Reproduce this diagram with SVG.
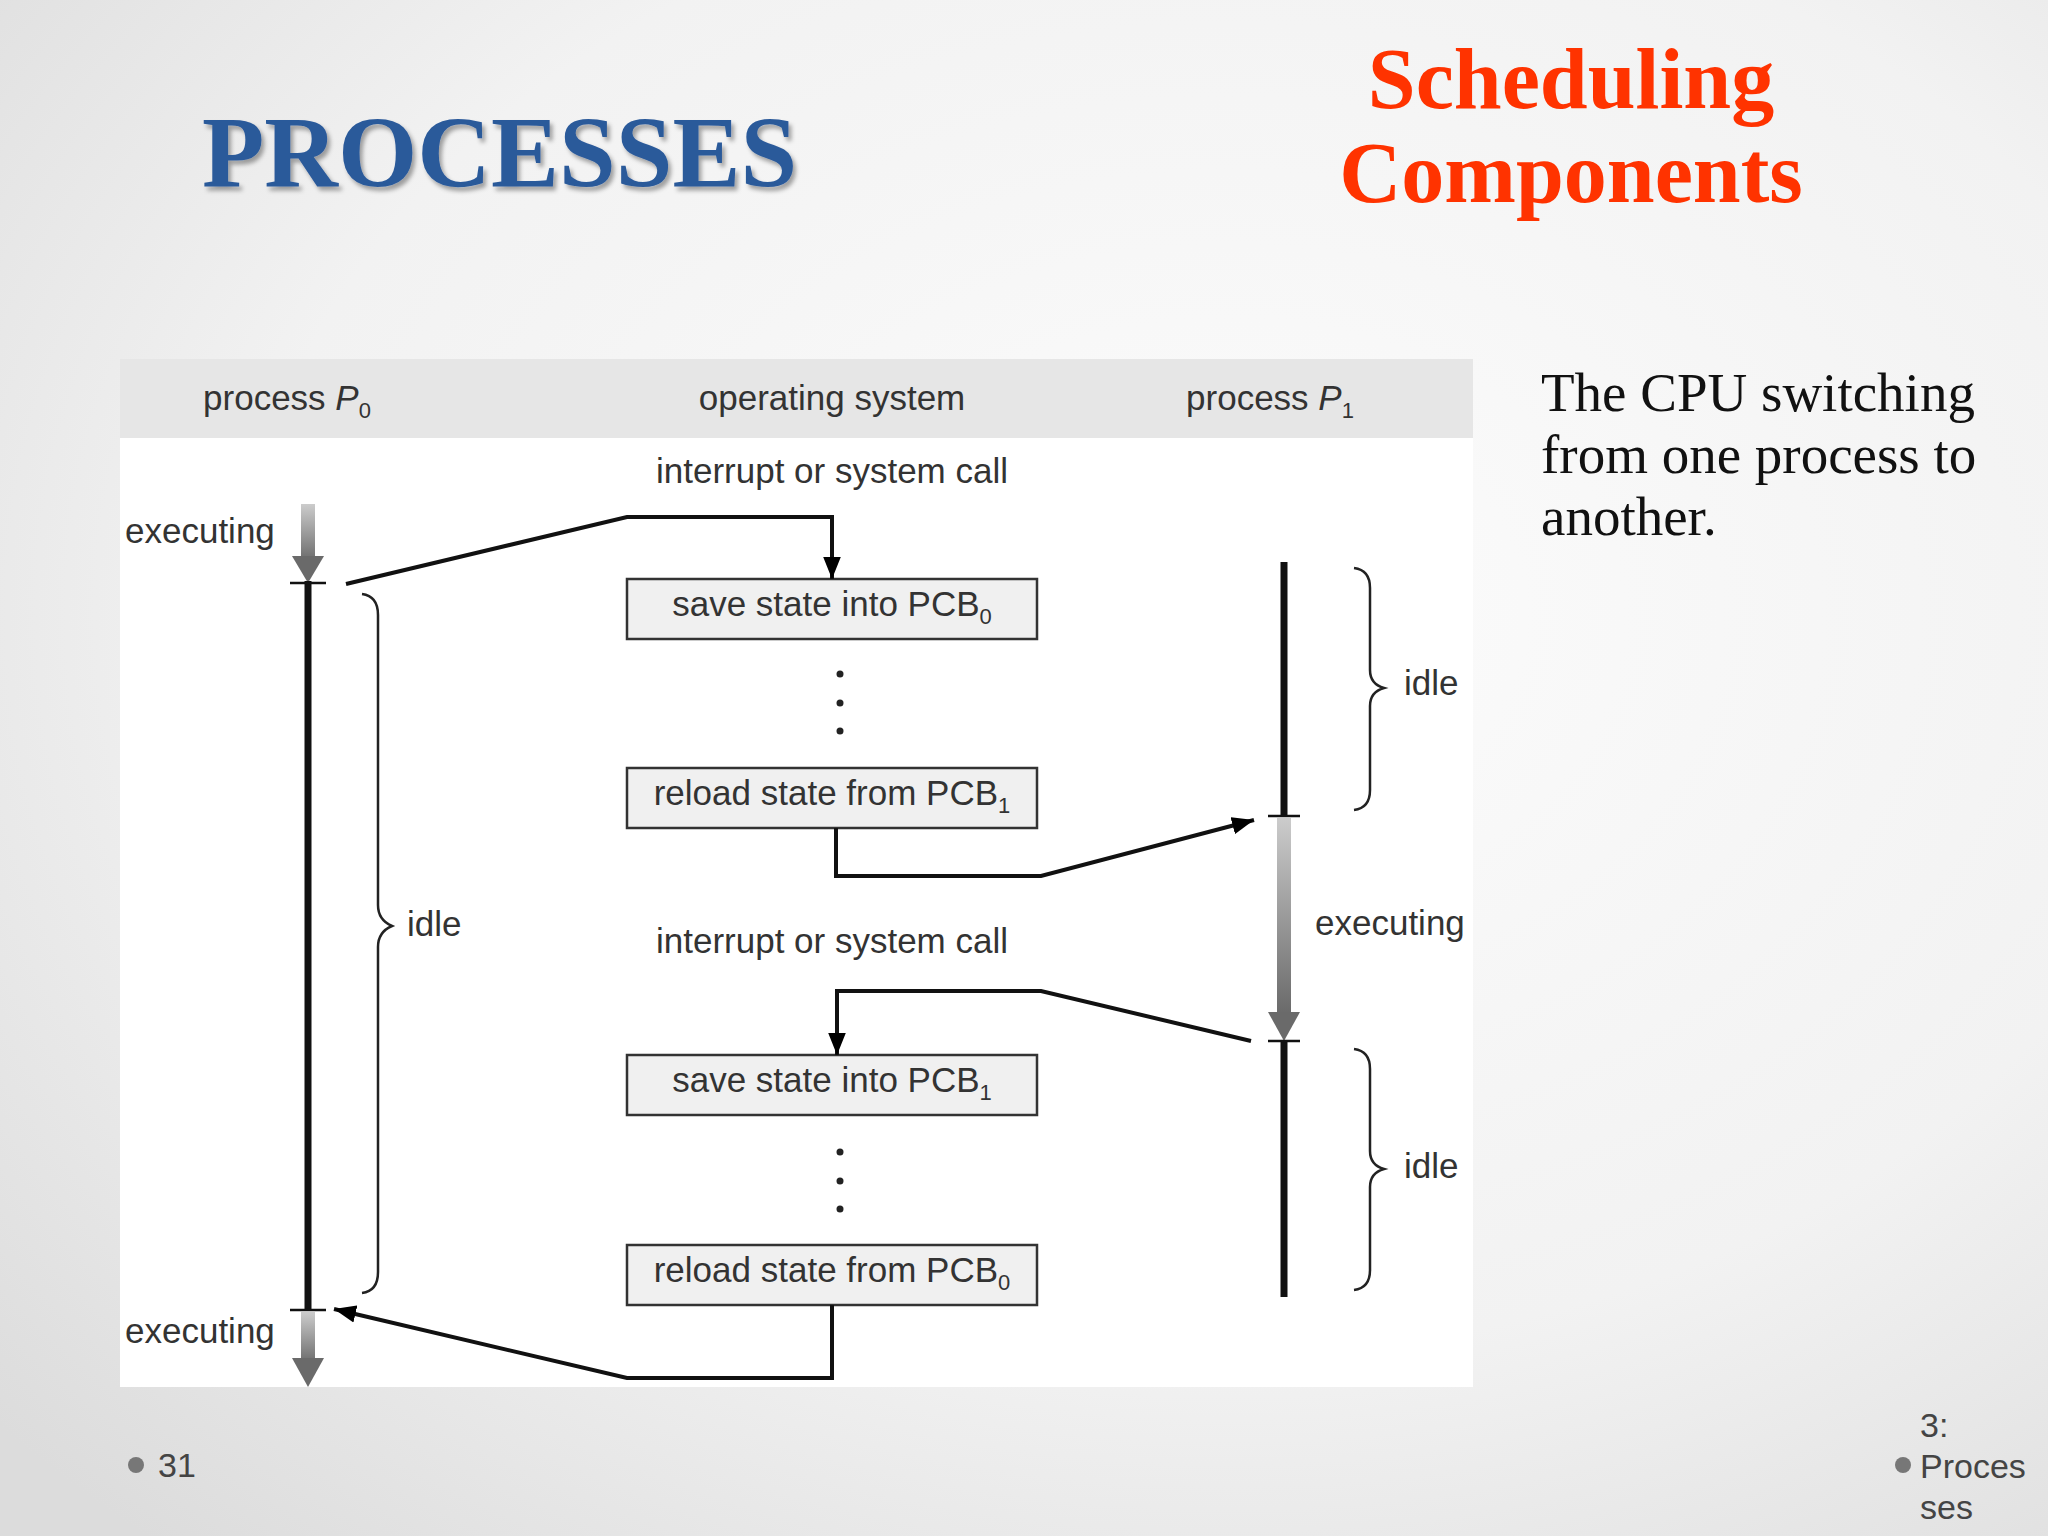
<svg xmlns="http://www.w3.org/2000/svg" width="2048" height="1536" viewBox="0 0 2048 1536">
<defs>
<radialGradient id="bg" cx="0.6" cy="0.4" r="0.8"><stop offset="0" stop-color="#fcfcfc"/><stop offset="0.6" stop-color="#f2f2f2"/><stop offset="1" stop-color="#dcdcdc"/></radialGradient>
<linearGradient id="ga" x1="0" y1="0" x2="0" y2="1"><stop offset="0" stop-color="#cccccc"/><stop offset="1" stop-color="#6a6a6a"/></linearGradient>
<marker id="a2" viewBox="0 0 20 16" refX="20" refY="8" markerWidth="22" markerHeight="18" orient="auto" markerUnits="userSpaceOnUse"><path d="M0,0 L20,8 L0,16 z" fill="#000"/></marker>
<filter id="sh"><feDropShadow dx="3" dy="4" stdDeviation="2" flood-color="#000" flood-opacity="0.35"/></filter>
</defs>
<style>
.t{font-family:"Liberation Sans",Arial,sans-serif;font-size:35px;fill:#333}
.s{font-size:22px}
.box{fill:#f0f0f0;stroke:#333;stroke-width:2.5}
.ln{fill:none;stroke:#111;stroke-width:7}
.br{fill:none;stroke:#222;stroke-width:2.5}
.ser{font-family:"Liberation Serif","Times New Roman",serif}
</style>
<rect width="2048" height="1536" fill="url(#bg)"/>
<text x="202" y="187" class="ser" font-size="102" font-weight="bold" fill="#2c5a9a" filter="url(#sh)">PROCESSES</text>
<text x="1571" y="108" class="ser" font-size="86" font-weight="bold" fill="#ff3300" text-anchor="middle">Scheduling</text>
<text x="1571" y="202" class="ser" font-size="86" font-weight="bold" fill="#ff3300" text-anchor="middle">Components</text>
<g class="ser" font-size="55" fill="#111">
<text x="1541" y="411">The CPU switching</text>
<text x="1541" y="473">from one process to</text>
<text x="1541" y="535">another.</text>
</g>
<g class="t" style="font-size:34px;fill:#444">
<circle cx="136" cy="1465" r="8" fill="#777"/><text x="158" y="1477">31</text>
<circle cx="1903" cy="1465" r="8" fill="#777"/>
<text x="1920" y="1437">3:</text><text x="1920" y="1478">Proces</text><text x="1920" y="1519">ses</text>
</g>
<rect x="120" y="359" width="1353" height="1028" fill="#fff"/>
<rect x="120" y="359" width="1353" height="79" fill="#e6e6e6"/>
<g id="headers" class="t">
<text x="287" y="410" text-anchor="middle">process <tspan font-style="italic">P</tspan><tspan class="s" dy="8">0</tspan></text>
<text x="832" y="410" text-anchor="middle">operating system</text>
<text x="1270" y="410" text-anchor="middle">process <tspan font-style="italic">P</tspan><tspan class="s" dy="8">1</tspan></text>
</g>
<g id="p0">
<rect x="301" y="504" width="14" height="58" fill="url(#ga)"/><path d="M292,556 L308,583 L324,556 z" fill="#6a6a6a"/>
<path d="M308,581 V1310" class="ln"/>
<path d="M290,583 H326 M290,1310 H326" stroke="#111" stroke-width="2.5"/>
<rect x="301" y="1312" width="14" height="52" fill="url(#ga)"/><path d="M292,1358 L308,1387 L324,1358 z" fill="#6a6a6a"/>
<text x="125" y="543" class="t">executing</text>
<text x="125" y="1343" class="t">executing</text>
<path d="M362,594 Q378,596 378,615 V905 Q378,920 392,926 Q378,932 378,947 V1272 Q378,1291 362,1293" class="br"/>
<text x="407" y="936" class="t">idle</text>
</g>
<g id="p1">
<path d="M1284,562 V816" class="ln"/>
<rect x="1277" y="818" width="14" height="196" fill="url(#ga)"/><path d="M1268,1012 L1284,1041 L1300,1012 z" fill="#6a6a6a"/>
<path d="M1284,1041 V1297" class="ln"/>
<path d="M1268,816 H1300 M1268,1041 H1300" stroke="#111" stroke-width="2.5"/>
<text x="1315" y="935" class="t">executing</text>
<path d="M1354,568 Q1370,570 1370,588 V670 Q1370,684 1384,688 Q1370,692 1370,706 V790 Q1370,808 1354,810" class="br"/>
<text x="1404" y="695" class="t">idle</text>
<path d="M1354,1049 Q1370,1051 1370,1069 V1151 Q1370,1165 1384,1169 Q1370,1173 1370,1187 V1270 Q1370,1288 1354,1290" class="br"/>
<text x="1404" y="1178" class="t">idle</text>
</g>
<g id="os" class="t">
<text x="832" y="483" text-anchor="middle">interrupt or system call</text>
<text x="832" y="953" text-anchor="middle">interrupt or system call</text>
<rect x="627" y="579" width="410" height="60" class="box"/>
<text x="832" y="616" text-anchor="middle">save state into PCB<tspan class="s" dy="8">0</tspan></text>
<rect x="627" y="768" width="410" height="60" class="box"/>
<text x="832" y="805" text-anchor="middle">reload state from PCB<tspan class="s" dy="8">1</tspan></text>
<rect x="627" y="1055" width="410" height="60" class="box"/>
<text x="832" y="1092" text-anchor="middle">save state into PCB<tspan class="s" dy="8">1</tspan></text>
<rect x="627" y="1245" width="410" height="60" class="box"/>
<text x="832" y="1282" text-anchor="middle">reload state from PCB<tspan class="s" dy="8">0</tspan></text>
<g fill="#222"><circle cx="840" cy="674" r="3.5"/><circle cx="840" cy="703" r="3.5"/><circle cx="840" cy="731" r="3.5"/>
<circle cx="840" cy="1152" r="3.5"/><circle cx="840" cy="1181" r="3.5"/><circle cx="840" cy="1209" r="3.5"/></g>
</g>
<g id="connectors" fill="none" stroke="#111" stroke-width="4">
<path d="M346,584 L627,517 H832 V579" marker-end="url(#a2)"/>
<path d="M836,828 V876 H1041 L1254,820" marker-end="url(#a2)"/>
<path d="M1251,1041 L1041,991 H837 V1055" marker-end="url(#a2)"/>
<path d="M832,1305 V1378 H627 L334,1309" marker-end="url(#a2)"/>
</g>
</svg>
